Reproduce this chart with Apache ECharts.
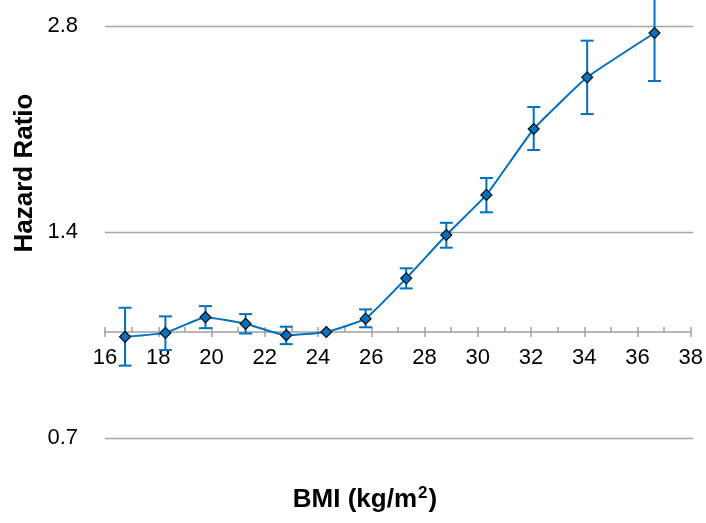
<!DOCTYPE html>
<html>
<head>
<meta charset="utf-8">
<script src="https://cdn.jsdelivr.net/npm/echarts@6/dist/echarts.min.js"></script>
<style>
  html, body { margin: 0; padding: 0; background: #fff; }
  #chart { width: 706px; height: 523px; }
</style>
</head>
<body>
<div id="chart"></div>
<script>
// BMI category midpoints and hazard ratios with 95% confidence limits
const bmi   = [16.75, 18.26, 19.76, 21.26, 22.78, 24.28, 25.75, 27.27, 28.77, 30.27, 32.04, 34.04, 36.56];
const hr    = [0.984, 0.997, 1.051, 1.028, 0.989, 1.000, 1.046, 1.198, 1.386, 1.586, 1.980, 2.356, 2.735];
const lower = [0.893, 0.941, 1.013, 0.995, 0.960, null,  1.016, 1.158, 1.328, 1.496, 1.845, 2.082, 2.327];
const upper = [1.085, 1.054, 1.091, 1.062, 1.018, null,  1.079, 1.239, 1.444, 1.679, 2.132, 2.665, 3.210];

// Axis ticks
const yTicks = [0.7, 1.4, 2.8];
const xMin = 16, xMax = 38, xStep = 2;

const BLUE = '#0070C0';
const GRID_GRAY = '#a6a6a6';
const FONT = '"Liberation Sans", Arial, sans-serif';

const linePoints = bmi.map((x, i) => [x, hr[i]]);
const ciPoints = bmi
  .map((x, i) => [x, lower[i], upper[i]])
  .filter(d => d[1] != null && d[2] != null);

const chart = echarts.init(document.getElementById('chart'), null, { renderer: 'canvas' });

chart.setOption({
  animation: false,
  backgroundColor: '#fff',
  grid: [
    { left: 105, right: 13, top: 26, bottom: 85 },
    { left: 105, right: 13, top: 331, height: 1 }
  ],
  xAxis: [
    { gridIndex: 0, type: 'value', min: xMin, max: xMax, interval: xStep, show: false },
    {
      gridIndex: 1, type: 'value', position: 'bottom',
      min: xMin, max: xMax, interval: xStep,
      axisLine: { show: true, lineStyle: { color: '#a0a0a0', width: 1.5 } },
      axisTick: { show: true, inside: true, length: 5, lineStyle: { color: '#a0a0a0', width: 1.5 } },
      minorTick: { show: true, splitNumber: 2, length: 5, lineStyle: { color: '#a0a0a0', width: 1.5 } },
      axisLabel: { show: true, margin: 15, color: '#000', fontSize: 22, fontFamily: FONT },
      splitLine: { show: false }
    },
    {
      gridIndex: 1, type: 'value', position: 'bottom',
      min: xMin, max: xMax, interval: xStep,
      axisLine: { show: false },
      axisTick: { show: true, inside: false, length: 5, lineStyle: { color: '#a0a0a0', width: 1.5 } },
      axisLabel: { show: false },
      splitLine: { show: false }
    }
  ],
  yAxis: [
    {
      gridIndex: 0, type: 'log', logBase: 2, min: 0.7, max: 2.8,
      axisLine: { show: false },
      axisTick: { show: false, customValues: yTicks },
      axisLabel: {
        customValues: yTicks, margin: 27, color: '#000', fontSize: 22, fontFamily: FONT,
        formatter: v => Number(v).toFixed(1)
      },
      splitLine: { show: true, lineStyle: { color: GRID_GRAY, width: 1.3 } }
    },
    { gridIndex: 1, type: 'value', show: false }
  ],
  graphic: [
    {
      type: 'text', x: 25, y: 173, rotation: Math.PI / 2,
      style: {
        text: 'Hazard Ratio', fill: '#000', align: 'center', verticalAlign: 'middle',
        font: 'bold 26px ' + FONT
      }
    },
    {
      type: 'text', x: 365, y: 500,
      style: {
        text: '{t|BMI (kg/m}{sup|2}{t|)}',
        align: 'center', verticalAlign: 'middle',
        rich: {
          t: { fontSize: 26, fontWeight: 'bold', fontFamily: FONT, fill: '#000', color: '#000', lineHeight: 30 },
          sup: { fontSize: 17, fontWeight: 'bold', fontFamily: FONT, fill: '#000', color: '#000',
                 lineHeight: 30, verticalAlign: 'top', padding: [0, 1, 0, 1] }
        }
      }
    }
  ],
  series: [
    {
      type: 'custom',
      xAxisIndex: 0, yAxisIndex: 0,
      data: ciPoints,
      encode: { x: 0, y: [1, 2] },
      clip: false,
      z: 2,
      renderItem(params, api) {
        const x = api.value(0);
        const lo = api.coord([x, api.value(1)]);
        const hi = api.coord([x, api.value(2)]);
        const half = 6.5;
        const style = { stroke: BLUE, lineWidth: 2 };
        return {
          type: 'group',
          children: [
            { type: 'line', shape: { x1: lo[0], y1: lo[1], x2: hi[0], y2: hi[1] }, style },
            { type: 'line', shape: { x1: lo[0] - half, y1: lo[1], x2: lo[0] + half, y2: lo[1] }, style },
            { type: 'line', shape: { x1: hi[0] - half, y1: hi[1], x2: hi[0] + half, y2: hi[1] }, style }
          ]
        };
      }
    },
    {
      type: 'line',
      xAxisIndex: 0, yAxisIndex: 0,
      data: linePoints,
      smooth: 0.12,
      symbol: 'diamond',
      symbolSize: 11,
      z: 3,
      lineStyle: { color: BLUE, width: 2 },
      itemStyle: { color: BLUE, borderColor: '#111', borderWidth: 1.2 }
    }
  ]
});
</script>
</body>
</html>
